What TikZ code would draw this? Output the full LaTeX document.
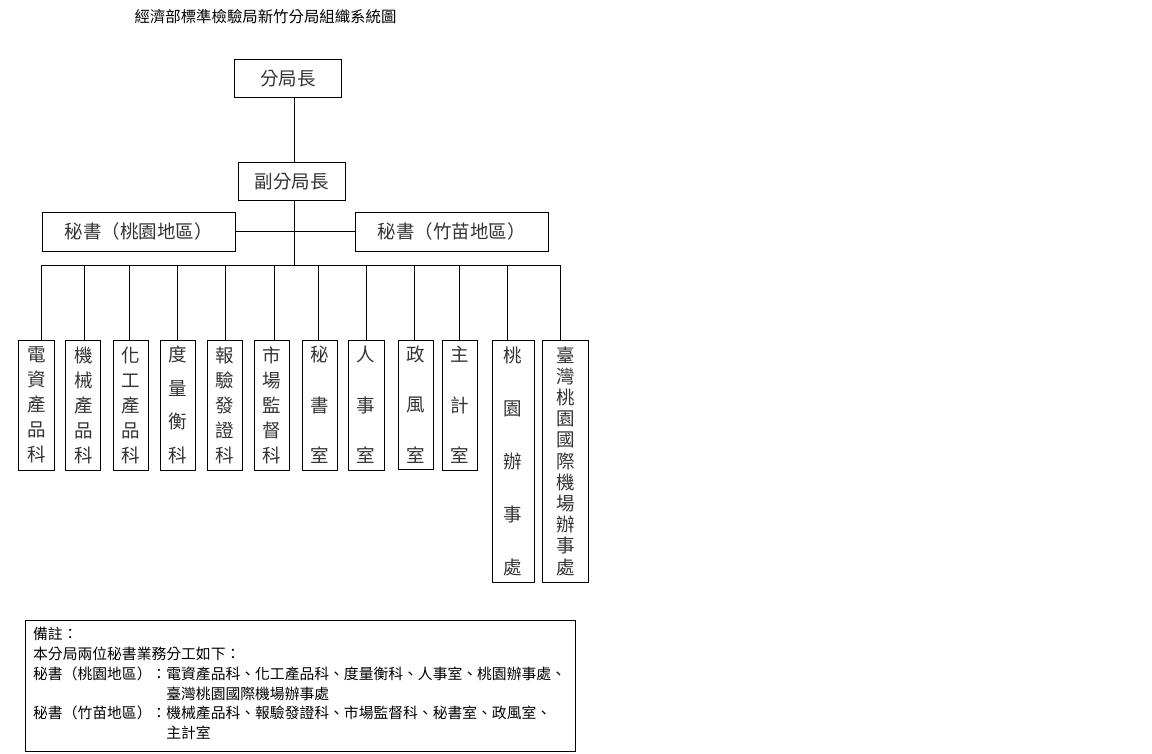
\documentclass[tikz,border=0pt]{standalone}
\usepackage{fontspec}
\setmainfont{Noto Sans CJK TC}
\usetikzlibrary{calc}

\tikzset{
	wire/.style={line width=1pt},
	box/.style={draw, line width=1pt, inner sep=0pt, text=black!80, font=\fontsize{18.5}{22}\selectfont},
	unit/.style={box, align=center}
}

\begin{document}
\begin{tikzpicture}[x=1pt, y=-1pt]
				\useasboundingbox (0,0) rectangle (1152,753);
				
				% title
				\node[font=\fontsize{15.4}{18}\selectfont] (title) at (265.5,17) {經濟部標準檢驗局新竹分局組織系統圖};
				
				% heads
				\node[box, minimum width=106.4, minimum height=38] (chief) at (287.8,78.3) {分局長};
				\node[box, minimum width=106.5, minimum height=38] (deputy) at (291.8,181.3) {副分局長};
				\node[box, minimum width=193, minimum height=39] (secL) at (138.9,231.8) {秘書（桃園地區）};
				\node[box, minimum width=193, minimum height=39] (secR) at (451.5,231.8) {秘書（竹苗地區）};
				
				\coordinate (bus) at (294,265.3);
				\draw[wire] (bus |- chief.south) -- (bus |- deputy.north);
				\draw[wire] (bus |- deputy.south) -- (bus);
				\draw[wire] (secL.east) -- (secR.west);
				\draw[wire] (41.5,265.3) -- (560,265.3);
				
				% units
				\foreach \nm/\cx/\cy/\bw/\bh/\ls/\lbl in {
					1/36.5/405/36/130/25/{電\\資\\產\\品\\科},
					2/83.3/405/35/130/25/{機\\械\\產\\品\\科},
					3/130.5/405/35/130/25/{化\\工\\產\\品\\科},
					4/178/405/35/130/33.7/{度\\量\\衡\\科},
					5/224.8/405/35/130/25/{報\\驗\\發\\證\\科},
					6/272/405/35/130/25/{市\\場\\監\\督\\科},
					7/319.5/405/35/130/50.5/{秘\\書\\室},
					8/366/405/36/130/50.5/{人\\事\\室},
					9/416/404.5/35/129/50.5/{政\\風\\室},
					10/460.2/405/35/130/50.5/{主\\計\\室},
					11/513/461/42/242/53/{桃\\園\\辦\\事\\處},
					12/565.3/461/46.5/242/21.2/{臺\\灣\\桃\\園\\國\\際\\機\\場\\辦\\事\\處}}
				\node[unit, minimum width=\bw, minimum height=\bh, font=\fontsize{18.5}{\ls}\selectfont] (u\nm) at (\cx,\cy) {\lbl};
				
				% drops from bus
				\foreach \nm/\cx in {1/41.5, 2/84.6, 3/129, 4/177, 5/225, 6/274, 7/318, 8/366, 9/414.6, 10/459, 11/507, 12/560}
				\draw[wire] (\cx,265.3) -- (\cx,265.3 |- u\nm.north);
				
				% notes
				\draw[wire] (25,620) rectangle (575,751);
				\node[anchor=north west, inner sep=0pt, align=left, font=\fontsize{14.8}{19.8}\selectfont] (notes) at (33,627) {備註：\\本分局兩位秘書業務分工如下：\\秘書（桃園地區）：電資產品科、化工產品科、度量衡科、人事室、桃園辦事處、\\\hspace*{9em}臺灣桃園國際機場辦事處\\秘書（竹苗地區）：機械產品科、報驗發證科、市場監督科、秘書室、政風室、\\\hspace*{9em}主計室};
			\end{tikzpicture}
\end{document}
